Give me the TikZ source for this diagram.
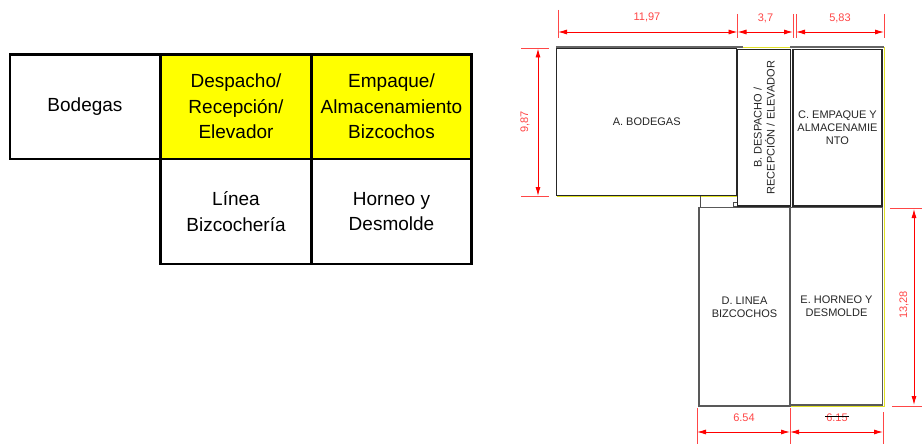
\documentclass[tikz,border=0pt]{standalone}
\usepackage{xcolor}
\usepackage{fontspec}
\setmainfont{Liberation Sans}
\usetikzlibrary{arrows.meta,positioning}
\definecolor{dimred}{RGB}{255,70,70}
\definecolor{planyellow}{RGB}{225,225,40}
\definecolor{cellyellow}{RGB}{255,255,0}
\tikzstyle{cell}=[rectangle,draw=black,line width=2.6pt,align=center,inner sep=0pt,font=\fontsize{19}{25.5}\selectfont]
\tikzstyle{room}=[rectangle,draw=black!85,line width=1.2pt,fill=white,align=center,inner sep=0pt,text=black!85,font=\fontsize{11}{13}\selectfont]
\tikzstyle{dimline} = [draw=red,line width=0.9pt,{Latex[length=9pt,width=5pt]}-{Latex[length=9pt,width=5pt]}]
\tikzstyle{extline} = [draw=dimred,line width=0.6pt]
\tikzstyle{dimtext} = [text=dimred,inner sep=0pt,font=\fontsize{11}{13}\selectfont]
\begin{document}
\begin{tikzpicture}[x=1pt,y=-1pt]

  \useasboundingbox (0,0) rectangle (922,444);

  % table
  \foreach \x/\y/\w/\h/\col/\name/\label in {
      85/106.7/150/104.5/white/bodegas/{Bodegas},
      236/106.7/151.5/104.5/cellyellow/despacho/{Despacho/\\Recepción/\\Elevador},
      391.5/106.7/159.5/104.5/cellyellow/empaque/{Empaque/\\Almacenamiento\\Bizcochos},
      236/211.5/151.5/105/white/linea/{Línea\\Bizcochería},
      391.5/211.5/159.5/105/white/horneo/{Horneo y\\Desmolde}}
        \node[cell,fill=\col,minimum width=\w pt,minimum height=\h pt] (\name) at (\x,\y) {\label};

  % outline behind the rooms
  \draw[planyellow,line width=1pt] (557,196.5) -- (737,196.5);
  \draw[planyellow,line width=1pt] (884.5,47) -- (884.5,406.5) -- (698,406.5);
  \draw[planyellow,line width=1pt] (737,47.5) -- (793,47.5);
  \draw[black!60,line width=1.4pt] (556,47) -- (743,47);
  \draw[black!60,line width=1.4pt] (790,47) -- (884,47);
  \draw[black!70,line width=0.7pt] (700,196) -- (700,207);
  \draw[black!70,line width=0.7pt] (733,202) rectangle (737,206.5);

  % rooms
  \foreach \x/\y/\w/\h/\col/\name/\label in {
      646.7/122/180/147.5/85/roomA/{A. BODEGAS},
      837.5/127.7/89/156.5/85/roomC/{C. EMPAQUE Y\\ALMACENAMIE\\NTO},
      744.5/306.8/91/198.5/65/roomD/{D. LINEA\\BIZCOCHOS},
      836.5/306.3/91.5/197.5/65/roomE/{E. HORNEO Y\\DESMOLDE}}
        \node[room,draw=black!\col,minimum width=\w pt,minimum height=\h pt] (\name) at (\x,\y) {\label};
  \node[room,rotate=90,minimum width=156.5pt,minimum height=53pt] (roomB) at (764.2,127.7) {B. DESPACHO /\\RECEPCIÓN / ELEVADOR};

  % dimension ends
  \foreach \x/\y/\name in {
      558/32/h1, 737.5/32/h2, 793/32/h3, 796/32/h4, 884/32/h5,
      538/48.5/v1, 538/196/v2, 914/209/v3, 914/405/v4,
      697/432/b1, 790/432/b2, 883/432/b3}
        \coordinate (\name) at (\x,\y);

  \foreach \source/ \dest in {h1/h2, h2/h3, h4/h5, v1/v2, v3/v4, b1/b2, b2/b3}
        \path[dimline] (\source) -- (\dest);

  % extension lines
  \foreach \xa/\ya/\xb/\yb in {
      558/10/558/38, 737.5/14/737.5/38, 793/14/793/38, 796/14/796/38, 884/14/884/38,
      521/48.5/549/48.5, 521/196/549/196, 890/208/922/208, 892/406/922/406,
      697/408/697/444, 790/408/790/444, 883/412/883/444}
        \draw[extline] (\xa,\ya) -- (\xb,\yb);

  % dimension texts
  \foreach \x/\y/\name/\label in {
      647/17.5/t1/{11,97}, 765.5/18/t2/{3,7}, 840/18/t3/{5,83},
      744/418/t6/{6.54}, 837/418/t7/{6.15}}
        \node[dimtext] (\name) at (\x,\y) {\label};
  \node[dimtext,rotate=90] (t4) at (525,122) {9,87};
  \node[dimtext,rotate=90] (t5) at (904,305) {13,28};
  \draw[black,line width=0.5pt] (825,416) -- (849,416);

\end{tikzpicture}
\end{document}
